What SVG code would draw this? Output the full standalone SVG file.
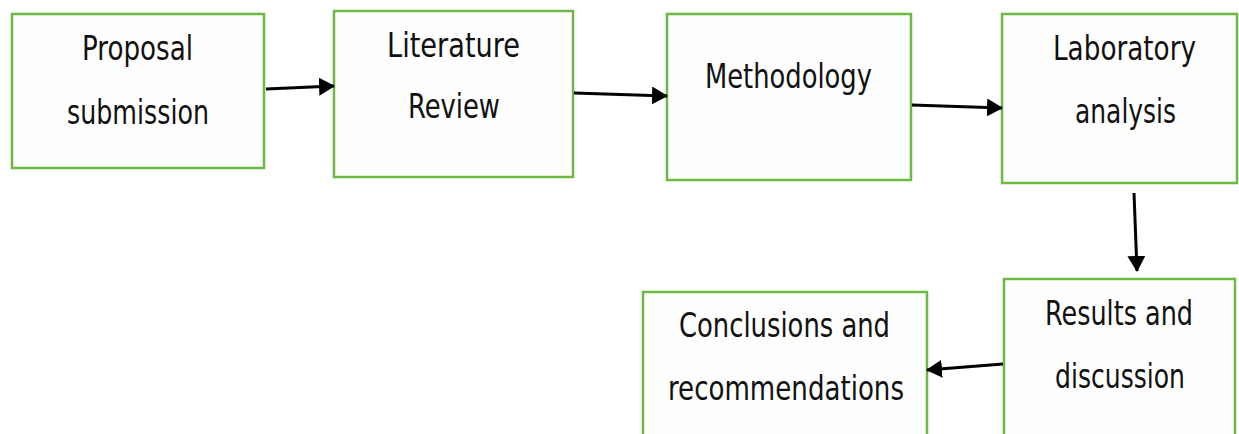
<svg xmlns="http://www.w3.org/2000/svg" width="1239" height="434" viewBox="0 0 1239 434">
<style>
.box{fill:#fefefe;stroke:#6cb944;stroke-width:2.5}
.t{font-family:"DejaVu Sans Condensed","DejaVu Sans",sans-serif;font-size:34px;fill:#111}
.c{stroke:#000;stroke-width:3;fill:none;marker-end:url(#ah)}
</style>
<defs>
<marker id="ah" markerUnits="userSpaceOnUse" markerWidth="16" markerHeight="18" refX="15" refY="9" orient="auto">
<path d="M0,0 L16,9 L0,18 Z" fill="#000"/>
</marker>
</defs>
<rect width="1239" height="434" fill="#ffffff"/>
<g id="n1"><rect class="box" x="12" y="14" width="252" height="154"/>
<text class="t" x="82" y="60" textLength="111" lengthAdjust="spacingAndGlyphs">Proposal</text>
<text class="t" x="67" y="124" textLength="142" lengthAdjust="spacingAndGlyphs">submission</text></g>
<g id="n2"><rect class="box" x="334" y="11" width="239" height="166"/>
<text class="t" x="387" y="57" textLength="133" lengthAdjust="spacingAndGlyphs">Literature</text>
<text class="t" x="408" y="118" textLength="92" lengthAdjust="spacingAndGlyphs">Review</text></g>
<g id="n3"><rect class="box" x="667" y="14" width="244" height="166"/>
<text class="t" x="705" y="88" textLength="167" lengthAdjust="spacingAndGlyphs">Methodology</text></g>
<g id="n4"><rect class="box" x="1002" y="14" width="235" height="169"/>
<text class="t" x="1053" y="60" textLength="143" lengthAdjust="spacingAndGlyphs">Laboratory</text>
<text class="t" x="1075" y="123" textLength="101" lengthAdjust="spacingAndGlyphs">analysis</text></g>
<g id="n5"><rect class="box" x="1004" y="279" width="231" height="170"/>
<text class="t" x="1045" y="325" textLength="148" lengthAdjust="spacingAndGlyphs">Results and</text>
<text class="t" x="1055" y="388" textLength="130" lengthAdjust="spacingAndGlyphs">discussion</text></g>
<g id="n6"><rect class="box" x="643" y="292" width="284" height="160"/>
<text class="t" x="679" y="337" textLength="211" lengthAdjust="spacingAndGlyphs">Conclusions and</text>
<text class="t" x="668" y="400" textLength="236" lengthAdjust="spacingAndGlyphs">recommendations</text></g>
<g id="connectors">
<line class="c" x1="266" y1="89" x2="334" y2="86"/>
<line class="c" x1="574" y1="93" x2="667" y2="96"/>
<line class="c" x1="912" y1="105" x2="1002" y2="108"/>
<line class="c" x1="1134" y1="193" x2="1137" y2="271"/>
<line class="c" x1="1003" y1="364" x2="927" y2="370"/>
</g>
</svg>
